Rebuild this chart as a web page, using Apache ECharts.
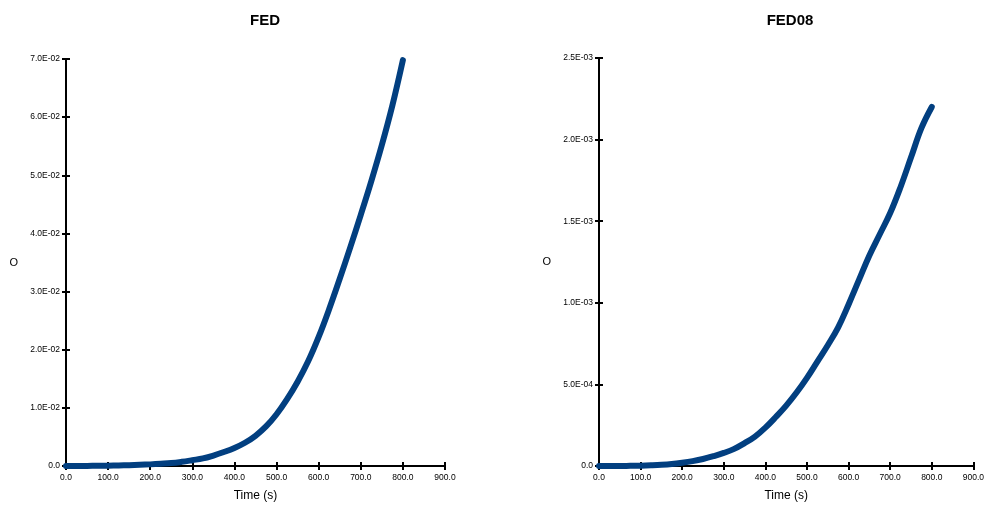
<!DOCTYPE html>
<html><head><meta charset="utf-8">
<script src="https://cdn.jsdelivr.net/npm/echarts@6/dist/echarts.min.js"></script>
<style>html,body{margin:0;padding:0;background:#fff}#c{width:987px;height:508px}</style>
</head><body><div id="c"></div>
<script>
const timeS = [0,25,50,75,100,125,150,175,200,225,250,275,300,325,350,375,400,425,450,475,500,525,550,575,600,625,650,675,700,725,750,775,800];
const fedValues = [0,0.00001,0.00002,0.00004,0.00006,0.0001,0.00014,0.0002,0.00028,0.00038,0.0005,0.00072,0.0010,0.0013,0.0018,0.0024,0.0031,0.0040,0.0052,0.0068,0.0089,0.0115,0.0145,0.0180,0.0222,0.0270,0.0322,0.0376,0.0432,0.0490,0.0552,0.0620,0.0698];
const fed08Values = [0,0,0,0.000001,0.000002,0.000004,0.000007,0.000012,0.00002,0.00003,0.000043,0.00006,0.00008,0.000105,0.00014,0.00018,0.000235,0.0003,0.00037,0.00045,0.00054,0.00064,0.00074,0.00085,0.00099,0.00114,0.00129,0.00142,0.00155,0.00171,0.00189,0.00207,0.00220];
const titles = ['FED','FED08'];
const xName = 'Time (s)';
const yName = 'O';

const lineColor = '#023f80';
const fnt = '"Liberation Sans", Arial, sans-serif';
function yFmt(v){ if (Math.abs(v) < 1e-12) return '0.0'; const s = v.toExponential(1).toUpperCase(); const m = s.match(/^(-?[\d.]+)E([+-])(\d+)$/); return m[1]+'E'+m[2]+(m[3].length<2?'0'+m[3]:m[3]); }
function xFmt(v){ return v.toFixed(1); }

const grids = [
  {left:66, top:59, width:379, bottom:42},
  {left:599, top:58, width:378, bottom:42}
];
const yMax = [0.07, 0.0025];
const yInt = [0.01, 0.0005];
const xAxes = [], yAxes = [];
[0,1].forEach(i=>{
  const base = {type:'value', gridIndex:i, min:0, max:900, interval:100,
    axisLine:{show:true, lineStyle:{color:'#000', width:2}},
    splitLine:{show:false}};
  xAxes.push(Object.assign({}, base, {position:'bottom', name:xName, nameLocation:'middle', nameGap:24,
    nameTextStyle:{fontFamily:fnt, fontSize:12, color:'#000'},
    axisTick:{show:true, length:4, lineStyle:{color:'#000', width:2}},
    axisLabel:{formatter:xFmt, fontFamily:fnt, fontSize:8.5, color:'#000', margin:7, letterSpacing:-0.5}}));
  xAxes.push(Object.assign({}, base, {position:'bottom', offset:0,
    axisTick:{show:true, inside:true, length:4, lineStyle:{color:'#000', width:2}},
    axisLabel:{show:false}}));
  const yb = {type:'value', gridIndex:i, min:0, max:yMax[i], interval:yInt[i],
    axisLine:{show:true, lineStyle:{color:'#000', width:2}}, splitLine:{show:false}};
  yAxes.push(Object.assign({}, yb, {position:'left', name:yName, nameLocation:'middle', nameGap:48, nameRotate:0,
    nameTextStyle:{fontFamily:fnt, fontSize:11, color:'#000'},
    axisTick:{show:true, length:4, lineStyle:{color:'#000', width:2}},
    axisLabel:{formatter:yFmt, fontFamily:fnt, fontSize:8.5, color:'#000', margin:6, letterSpacing:-0.5}}));
  yAxes.push(Object.assign({}, yb, {position:'left', offset:0,
    axisTick:{show:true, inside:true, length:4, lineStyle:{color:'#000', width:2}},
    axisLabel:{show:false}}));
});

const series = [fedValues, fed08Values].map((vals,i)=>({
  type:'line', xAxisIndex:i*2, yAxisIndex:i*2, smooth:0.4, showSymbol:false, symbol:'none',
  data: timeS.map((t,k)=>[t, vals[k]]),
  lineStyle:{color:lineColor, width:6, cap:'round', join:'round'}, z:5, animation:false
}));

const chart = echarts.init(document.getElementById('c'), null, {renderer:'canvas'});
chart.setOption({
  backgroundColor:'#fff',
  animation:false,
  title:[
    {text:titles[0], left:260, top:8, textAlign:'center', textStyle:{fontFamily:fnt, fontSize:15, fontWeight:'bold', color:'#000'}},
    {text:titles[1], left:785, top:8, textAlign:'center', textStyle:{fontFamily:fnt, fontSize:15, fontWeight:'bold', color:'#000'}}
  ],
  grid:grids, xAxis:xAxes, yAxis:yAxes, series:series
});
</script></body></html>
